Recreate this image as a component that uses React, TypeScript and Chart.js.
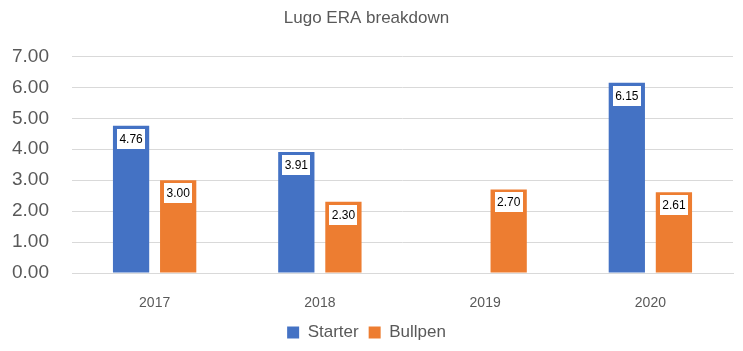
import React, { useEffect, useRef } from "react";
import { Chart, registerables } from "chart.js";

Chart.register(...registerables);

const categories = ["2017", "2018", "2019", "2020"];
const starterValues: (number | null)[] = [4.76, 3.91, null, 6.15];
const bullpenValues: (number | null)[] = [3.0, 2.3, 2.7, 2.61];
const seriesNames = ["Starter", "Bullpen"];
const seriesColors = ["#4472C4", "#ED7D31"];
const chartTitle = "Lugo ERA breakdown";

const FONT = "'Liberation Sans', Arial, sans-serif";
const GREY = "#595959";

const dataLabelPlugin = {
  id: "boxLabels",
  afterDatasetsDraw(chart: any) {
    const ctx = chart.ctx;
    ctx.save();
    chart.data.datasets.forEach((ds: any, di: number) => {
      const meta = chart.getDatasetMeta(di);
      meta.data.forEach((el: any, i: number) => {
        const v = ds.data[i];
        if (v === null || v === undefined) return;
        const w = 28;
        const h = 20;
        const top = el.y + 3;
        ctx.fillStyle = "#FFFFFF";
        ctx.fillRect(Math.round(el.x - w / 2), Math.round(top), w, h);
        ctx.fillStyle = "#000000";
        ctx.font = `12px ${FONT}`;
        ctx.textAlign = "center";
        ctx.textBaseline = "middle";
        ctx.fillText(Number(v).toFixed(2), el.x, top + h / 2 + 0.5);
      });
    });
    ctx.restore();
  },
};

export default function App() {
  const ref = useRef<HTMLCanvasElement | null>(null);

  useEffect(() => {
    document.body.style.margin = "0";
    if (!ref.current) return;
    const chart = new Chart(ref.current, {
      type: "bar",
      data: {
        labels: categories,
        datasets: [
          {
            label: seriesNames[0],
            data: starterValues,
            backgroundColor: seriesColors[0],
            categoryPercentage: 0.57,
            barPercentage: 0.77,
          },
          {
            label: seriesNames[1],
            data: bullpenValues,
            backgroundColor: seriesColors[1],
            categoryPercentage: 0.57,
            barPercentage: 0.77,
          },
        ],
      },
      options: {
        animation: false,
        responsive: false,
        maintainAspectRatio: false,
        layout: { padding: { left: 0, right: 10, top: 0, bottom: 0 } },
        plugins: {
          tooltip: { enabled: false },
          title: {
            display: true,
            text: chartTitle,
            color: GREY,
            font: { family: FONT, size: 17, weight: "normal" },
            padding: { top: 8, bottom: 28 },
          },
          legend: {
            position: "bottom",
            labels: {
              color: GREY,
              font: { family: FONT, size: 17 },
              boxWidth: 12,
              boxHeight: 12,
              padding: 10,
            },
          },
        },
        scales: {
          x: {
            grid: { display: false },
            border: { display: true, color: "#D9D9D9" },
            ticks: {
              color: GREY,
              font: { family: FONT, size: 14 },
              padding: 14,
            },
            afterFit: (s: any) => {
              s.height = 41;
            },
          },
          y: {
            min: 0,
            max: 7,
            grid: { color: "#D9D9D9", drawTicks: false },
            border: { display: false },
            ticks: {
              stepSize: 1,
              color: GREY,
              font: { family: FONT, size: 19 },
              padding: 23,
              callback: (v: any) => Number(v).toFixed(2),
            },
            afterFit: (s: any) => {
              s.width = 72;
            },
          },
        },
      },
      plugins: [dataLabelPlugin],
    } as any);
    return () => chart.destroy();
  }, []);

  return (
    <div style={{ width: 743, height: 351 }}>
      <canvas ref={ref} width={743} height={351} style={{ display: "block" }} />
    </div>
  );
}
